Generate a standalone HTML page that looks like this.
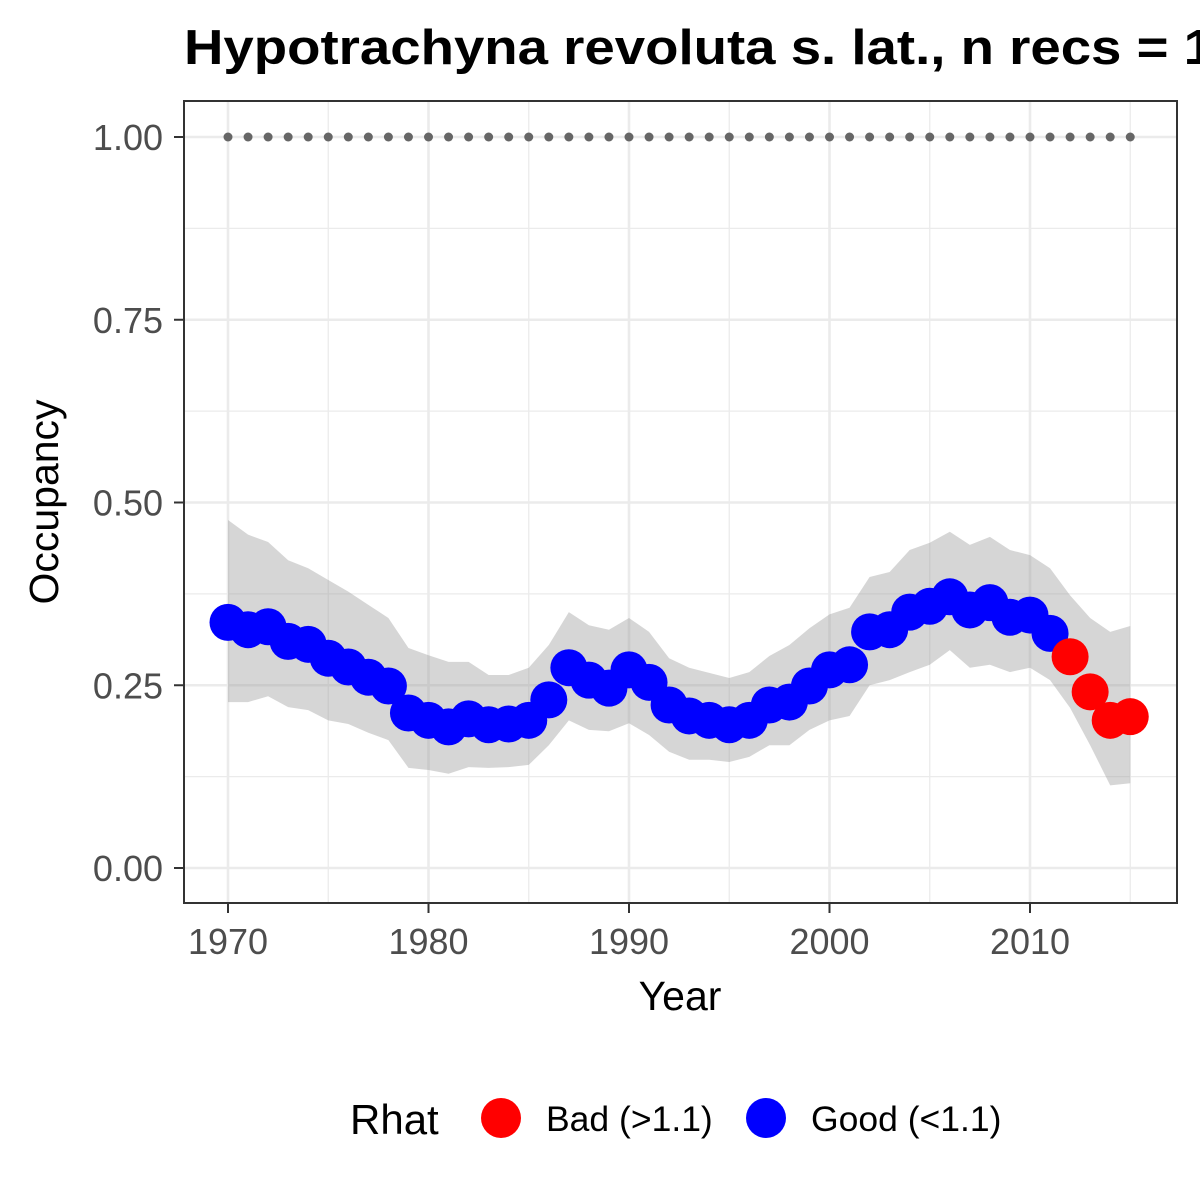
<!DOCTYPE html>
<html><head><meta charset="utf-8"><style>body{margin:0;background:#fff}svg{display:block}</style></head>
<body>
<svg id="chart" width="1200" height="1200" viewBox="0 0 1200 1200" font-family="'Liberation Sans', Arial, sans-serif">
<rect width="1200" height="1200" fill="#fff"/>
<text x="184" y="64" font-size="49" font-weight="bold" fill="#000" textLength="1030" lengthAdjust="spacingAndGlyphs">Hypotrachyna revoluta s. lat., n recs = 1</text>
<g id="grid"></g>
<g id="ribbon"></g>
<g id="dots"></g>
<g id="points"></g>
<rect x="184" y="101" width="993" height="802" fill="none" stroke="#333" stroke-width="2"/>
<g id="axes"></g>
<text x="680" y="1010" font-size="41" text-anchor="middle" fill="#000">Year</text>
<text transform="translate(58,502) rotate(-90)" font-size="41" text-anchor="middle" fill="#000">Occupancy</text>
<g>
<text x="350" y="1134" font-size="42" fill="#000">Rhat</text>
<circle cx="501" cy="1118" r="20" fill="#ff0000"/>
<text x="546" y="1131" font-size="35.5" fill="#000">Bad (&gt;1.1)</text>
<circle cx="766" cy="1118" r="20" fill="#0000ff"/>
<text x="811" y="1131" font-size="35.5" fill="#000">Good (&lt;1.1)</text>
</g>
</svg>
<script>
const years=[];for(let y=1970;y<=2015;y++)years.push(y);
const occupancy=[0.336,0.326,0.33,0.31,0.306,0.287,0.275,0.261,0.249,0.212,0.202,0.193,0.204,0.196,0.197,0.202,0.23,0.274,0.257,0.246,0.271,0.254,0.223,0.208,0.202,0.196,0.202,0.223,0.227,0.249,0.271,0.278,0.323,0.326,0.35,0.358,0.371,0.353,0.363,0.343,0.346,0.321,0.289,0.241,0.202,0.207];
const upper=[.476,.456,.446,.421,.410,.394,.378,.360,.342,.301,.291,.282,.282,.264,.264,.274,.305,.350,.332,.326,.342,.323,.287,.274,.267,.260,.268,.290,.305,.328,.347,.356,.398,.405,.435,.445,.460,.442,.453,.435,.428,.410,.373,.342,.323,.331];
const lower=[.227,.227,.235,.220,.216,.202,.197,.185,.175,.137,.134,.129,.138,.137,.138,.141,.168,.202,.189,.187,.198,.182,.159,.148,.148,.145,.152,.168,.168,.189,.202,.208,.250,.257,.268,.278,.298,.274,.278,.268,.274,.257,.219,.168,.113,.116];
const rhatBad=[0,0,0,0,0,0,0,0,0,0,0,0,0,0,0,0,0,0,0,0,0,0,0,0,0,0,0,0,0,0,0,0,0,0,0,0,0,0,0,0,0,0,1,1,1,1];
const xTicks=[1970,1980,1990,2000,2010];
const yTicks=[0,0.25,0.5,0.75,1];
const yTickLabels=["0.00","0.25","0.50","0.75","1.00"];
const NS="http://www.w3.org/2000/svg";
const X=v=>228+(v-1970)*20.05;
const Y=v=>868-v*731;
function mk(tag,attrs,parent){const e=document.createElementNS(NS,tag);for(const k in attrs)e.setAttribute(k,attrs[k]);document.getElementById(parent).appendChild(e);return e;}
[1975,1985,1995,2005,2015].forEach(v=>{const e=mk('line',{x1:X(v),x2:X(v),y1:101,y2:903,stroke:'#ebebeb','stroke-width':1.3},'grid');

});
[0.125,0.375,0.625,0.875].forEach(v=>{const e=mk('line',{x1:184,x2:1177,y1:Y(v),y2:Y(v),stroke:'#ebebeb','stroke-width':1.3},'grid');

});
xTicks.forEach(v=>{const e=mk('line',{x1:X(v),x2:X(v),y1:101,y2:903,stroke:'#ebebeb','stroke-width':2.6},'grid');

});
yTicks.forEach(v=>{const e=mk('line',{x1:184,x2:1177,y1:Y(v),y2:Y(v),stroke:'#ebebeb','stroke-width':2.6},'grid');

});
let d='';years.forEach((y,i)=>{d+=(i?'L':'M')+X(y)+','+Y(upper[i]);});
for(let i=years.length-1;i>=0;i--)d+='L'+X(years[i])+','+Y(lower[i]);
const rb=mk('path',{d:d+'Z',fill:'#999','fill-opacity':0.4},'ribbon');


years.forEach(y=>{const e=mk('circle',{cx:X(y),cy:Y(1),r:4.5,fill:'#666'},'dots');

});
years.forEach((y,i)=>{const e=mk('circle',{cx:X(y),cy:Y(occupancy[i]),r:18.5,fill:rhatBad[i]?'#ff0000':'#0000ff'},'points');

});
xTicks.forEach(v=>{const t=mk('line',{x1:X(v),x2:X(v),y1:903,y2:913,stroke:'#333','stroke-width':2},'axes');


const l=mk('text',{x:X(v),y:954,'font-size':36,'text-anchor':'middle',fill:'#4d4d4d'},'axes');l.textContent=v;

});
yTicks.forEach((v,i)=>{const t=mk('line',{x1:174,x2:184,y1:Y(v),y2:Y(v),stroke:'#333','stroke-width':2},'axes');


const l=mk('text',{x:163,y:Y(v)+13,'font-size':36,'text-anchor':'end',fill:'#4d4d4d'},'axes');l.textContent=yTickLabels[i];

});
</script>
</body></html>
